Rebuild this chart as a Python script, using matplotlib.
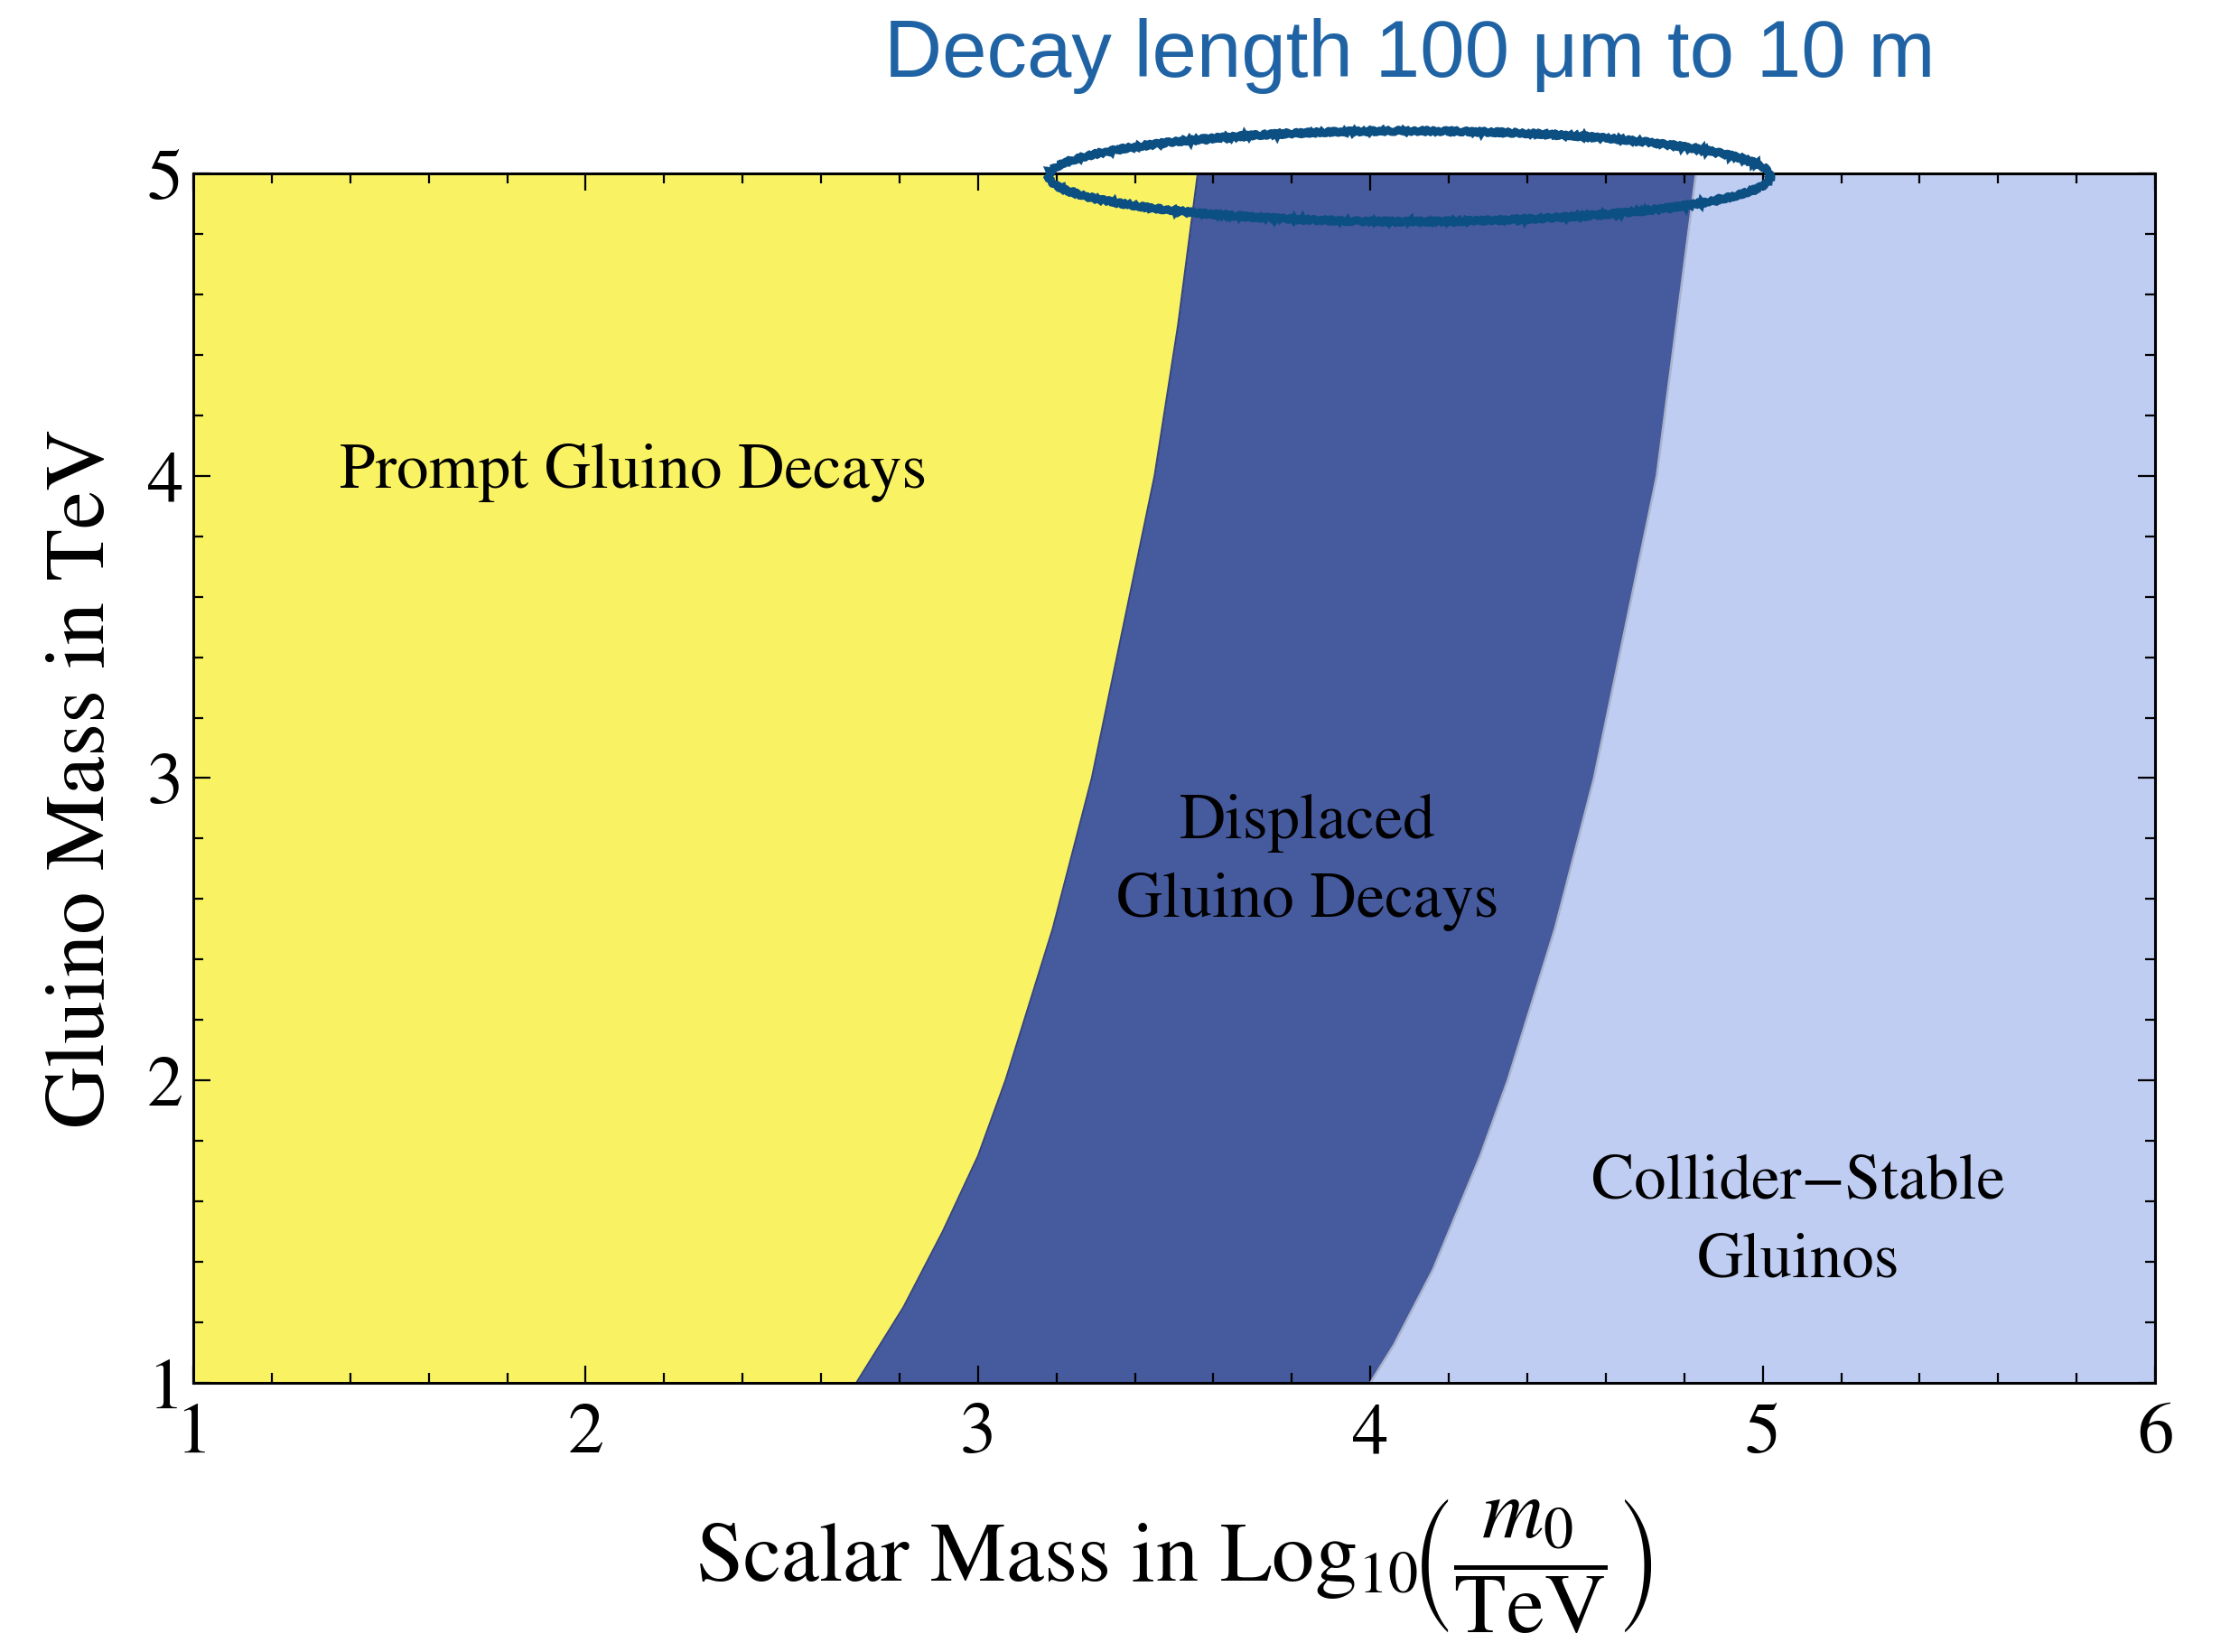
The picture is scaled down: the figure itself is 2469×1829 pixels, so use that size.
import matplotlib
matplotlib.use('Agg')
import matplotlib.pyplot as plt
from matplotlib.ticker import MultipleLocator
from matplotlib.patches import Ellipse

# boundaries of the three decay regions (log10 m0/TeV at given gluino mass)
gluino_mass = [1.0, 1.125, 1.25, 1.375, 1.5, 1.75, 2.0, 2.25, 2.5, 2.75, 3.0,
               3.25, 3.5, 3.75, 4.0, 4.25, 4.5, 4.75, 5.0]
prompt_edge = [2.69, 2.75, 2.81, 2.86, 2.91, 3.00, 3.07, 3.13, 3.19, 3.24, 3.29,
               3.33, 3.37, 3.41, 3.45, 3.48, 3.51, 3.535, 3.56]
stable_edge = [4.00, 4.06, 4.11, 4.16, 4.20, 4.28, 4.35, 4.41, 4.47, 4.52, 4.57,
               4.61, 4.65, 4.69, 4.73, 4.755, 4.78, 4.805, 4.83]

x_ticks = [1, 2, 3, 4, 5, 6]
y_ticks = [1, 2, 3, 4, 5]

region_labels = ['Prompt Gluino Decays', 'Displaced\nGluino Decays', 'Collider\u2212Stable\nGluinos']
region_pos = [(2.12, 4.01), (3.84, 2.72), (5.09, 1.53)]

plt.rcParams['font.family'] = ['STIXGeneral', 'Liberation Serif', 'DejaVu Serif']
plt.rcParams['mathtext.fontset'] = 'stix'

fig = plt.figure(figsize=(24.69, 18.29), dpi=100)
ax = fig.add_axes([0.0867, 0.163, 0.8797, 0.732])

yellow = '#f9f364'
dark = '#465a9e'
light = '#bfcdf3'

ax.fill_betweenx(gluino_mass, x_ticks[0], prompt_edge, color=yellow, lw=0)
ax.fill_betweenx(gluino_mass, prompt_edge, stable_edge, color=dark, lw=0)
ax.fill_betweenx(gluino_mass, stable_edge, x_ticks[-1], color=light, lw=0)
ax.plot(prompt_edge, gluino_mass, color='#34457f', lw=1.5)
ax.plot(stable_edge, gluino_mass, color='#a9b2cc', lw=1.8)

ax.set_xlim(1, 6)
ax.set_ylim(1, 5)
ax.set_xticks(x_ticks)
ax.set_yticks(y_ticks)
ax.xaxis.set_minor_locator(MultipleLocator(0.2))
ax.yaxis.set_minor_locator(MultipleLocator(0.2))
ax.tick_params(which='both', direction='in', top=True, right=True, width=1.6, color='black')
ax.tick_params(which='major', length=14, labelsize=58)
ax.tick_params(which='minor', length=8)
ax.tick_params(axis='x', pad=16)
ax.tick_params(axis='y', pad=8)
for s in ax.spines.values():
    s.set_linewidth(2.2)

for txt, (tx, ty) in zip(region_labels, region_pos):
    ax.text(tx, ty, txt, ha='center', va='center', fontsize=51, linespacing=1.45)

ax.set_ylabel('Gluino Mass in TeV', fontsize=68, labelpad=20)
ax.set_xlabel(r'Scalar Mass in Log$_{10}\!\left(\dfrac{m_0}{\mathrm{TeV}}\right)$', fontsize=68, labelpad=24)

# hand-drawn style ring round the top edge of the displaced band
for dy, lw in [(0.0, 6), (0.008, 3)]:
    ring = Ellipse((4.10, 4.99 + dy), 1.84, 0.30, fill=False, edgecolor='#0c4f82', lw=lw,
                   clip_on=False, zorder=5)
    ring.set_sketch_params(scale=1.2, length=8, randomness=4)
    ax.add_patch(ring)

fig.text(0.632, 0.966, 'Decay length 100 \u03bcm to 10 m', color='#1f63a4', fontsize=64,
         family=['Liberation Sans', 'DejaVu Sans'], ha='center', va='center')

fig.savefig('out.png', dpi=100)
